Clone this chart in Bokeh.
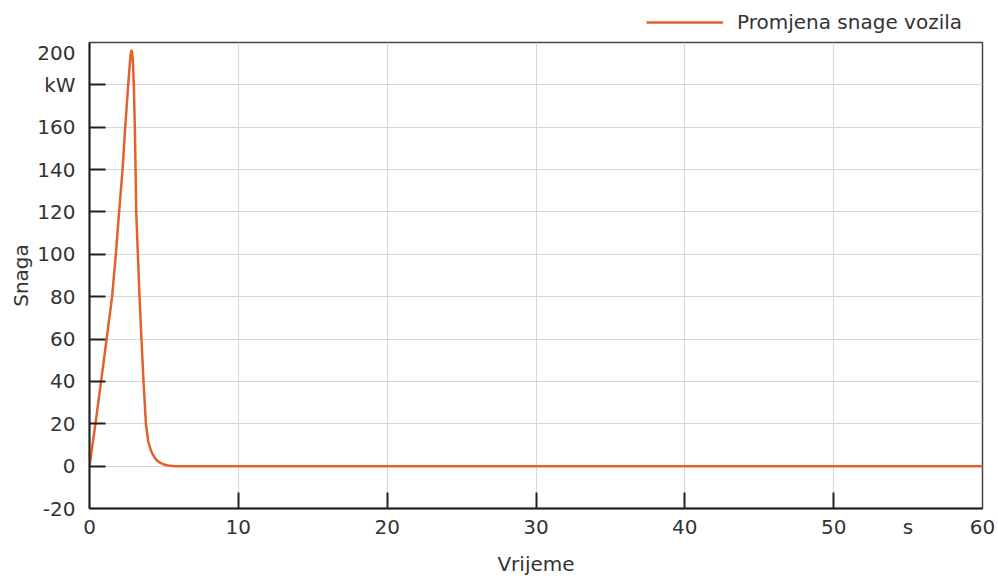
from bokeh.plotting import figure
from bokeh.layouts import column
from bokeh.models import FixedTicker, Legend, LegendItem, Range1d
from bokeh.embed import file_html
from bokeh.resources import INLINE

# data
time_s = [0, 0.4, 0.78, 1.15, 1.52, 1.77, 1.99, 2.22, 2.4, 2.6, 2.72, 2.78, 2.82,
          2.87, 2.92, 2.98, 3.06, 3.14, 3.25, 3.36, 3.49, 3.63, 3.79, 3.94, 4.1,
          4.21, 4.4, 4.55, 4.8, 5.0, 5.3, 5.7, 60]
power_kw = [0, 20, 40, 60, 80, 100, 120, 140, 160, 180, 191, 195, 196.5,
            195, 190, 180, 155, 120, 100, 80, 60, 40, 20, 12, 8,
            6, 3.8, 2.6, 1.4, 0.8, 0.3, 0, 0]
x_ticks = [0, 10, 20, 30, 40, 50, 60]
x_unit_pos = 55
x_unit = "s"
y_ticks = [-20, 0, 20, 40, 60, 80, 100, 120, 140, 160, 180, 200]
y_overrides = {180: "kW", -20: "-20"}
series_name = "Promjena snage vozila"

FONT = "DejaVu Sans"
TXT = "#333333"
ORANGE = "#E4602F"
FS = "20px"

TOP_H = 40

p = figure(width=998, height=583 - TOP_H, output_backend="svg", toolbar_location=None,
           x_range=Range1d(0, 60), y_range=Range1d(-20, 200),
           min_border_left=89, min_border_right=16, min_border_top=2,
           min_border_bottom=75)
p.background_fill_color = "white"
p.border_fill_color = "white"
p.outline_line_color = "#444444"
p.outline_line_width = 1.5

r = p.line(time_s, power_kw, line_color=ORANGE, line_width=2.5)

for ax in (p.xaxis[0], p.yaxis[0]):
    ax.major_label_text_font = FONT
    ax.major_label_text_font_size = FS
    ax.major_label_text_color = TXT
    ax.axis_label_text_font = FONT
    ax.axis_label_text_font_size = FS
    ax.axis_label_text_font_style = "normal"
    ax.axis_label_text_color = TXT
    ax.axis_line_color = "#222222"
    ax.axis_line_width = 2
    ax.major_tick_line_color = None
    ax.minor_tick_in = 16
    ax.minor_tick_out = 0
    ax.minor_tick_line_color = "#222222"
    ax.minor_tick_line_width = 2

# labels on major ticks; visible inner tick marks drawn as "minor" ticks
p.xaxis.ticker = FixedTicker(ticks=x_ticks + [x_unit_pos], minor_ticks=x_ticks[1:-1])
p.xaxis.major_label_overrides = {x_unit_pos: x_unit}
p.yaxis.ticker = FixedTicker(ticks=y_ticks, minor_ticks=y_ticks[1:-1])
p.yaxis.major_label_overrides = y_overrides
p.xaxis.major_label_standoff = 0
p.yaxis.major_label_standoff = 8
p.xaxis.axis_label = "Vrijeme"
p.yaxis.axis_label = "Snaga"
p.xaxis.axis_label_standoff = 10
p.yaxis.axis_label_standoff = 1

p.xgrid.ticker = FixedTicker(ticks=x_ticks[1:-1])
p.ygrid.ticker = FixedTicker(ticks=y_ticks[1:-1])
p.xgrid.grid_line_color = "#d6d6d6"
p.ygrid.grid_line_color = "#d6d6d6"

# legend strip above the chart
lg = figure(width=998, height=TOP_H, output_backend="svg", toolbar_location=None,
            x_range=Range1d(1000, 1001), y_range=Range1d(1000, 1001),
            min_border=0, outline_line_color=None)
lg.axis.visible = False
lg.grid.visible = False
lr = lg.line(time_s, power_kw, line_color=ORANGE, line_width=2.5)
legend = Legend(items=[LegendItem(label=series_name, renderers=[lr])],
                location=(557, 6), orientation="horizontal",
                label_text_font=FONT, label_text_font_size=FS,
                label_text_color=TXT, glyph_width=77, glyph_height=20,
                label_standoff=14, border_line_color=None,
                background_fill_alpha=0, padding=0, margin=0, spacing=0)
lg.add_layout(legend, "center")

open("out.html", "w").write(file_html(column(lg, p, spacing=0), INLINE))
